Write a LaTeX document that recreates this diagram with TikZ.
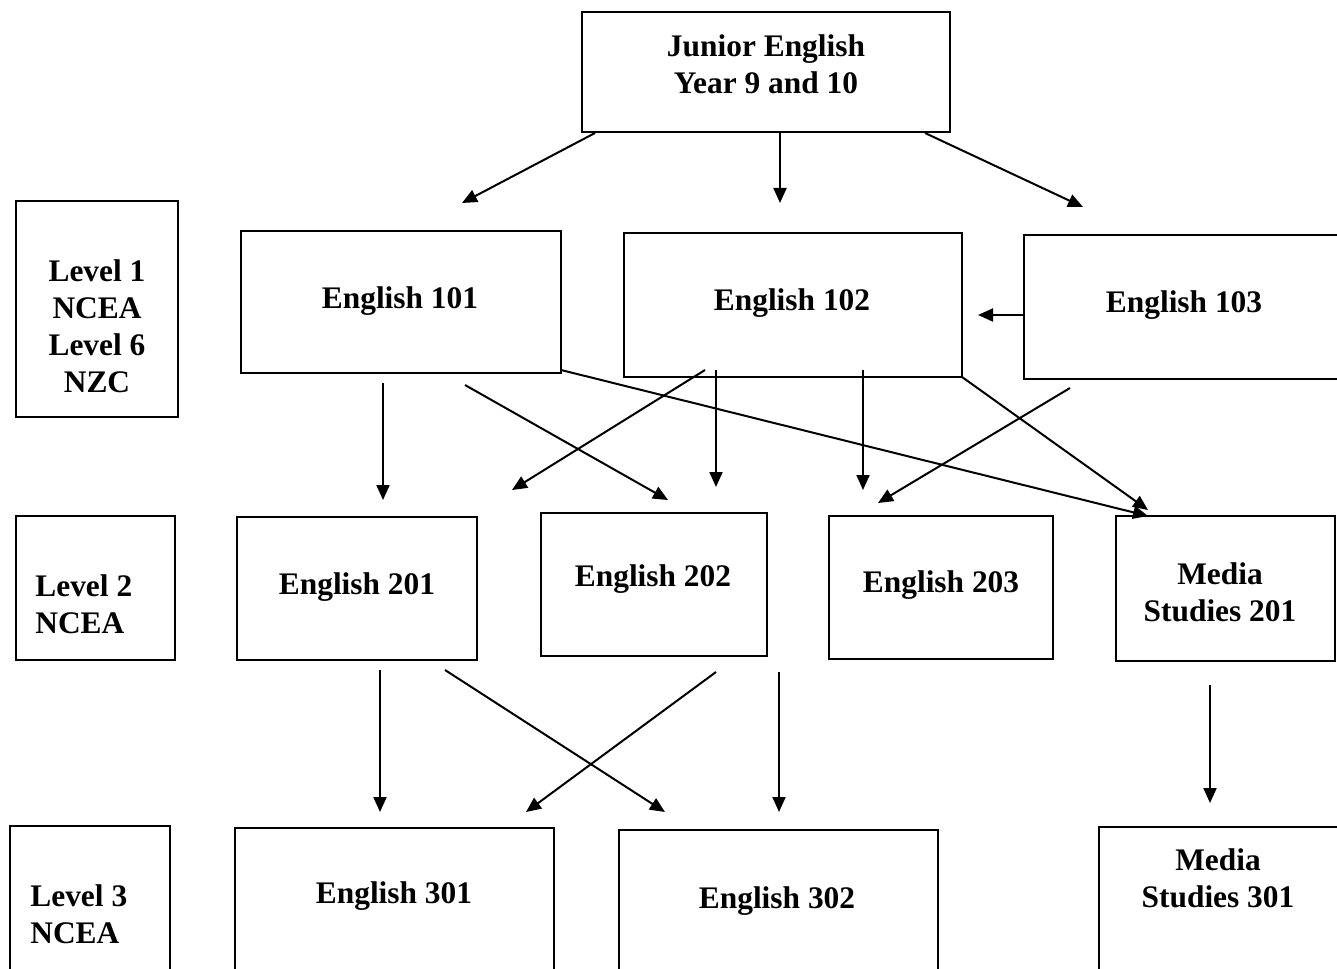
\documentclass[tikz,border=0pt]{standalone}
\usepackage{fontspec}
\setmainfont{Liberation Serif}
\usetikzlibrary{arrows.meta,fit}
\begin{document}
\begin{tikzpicture}[x=0.5pt,y=-0.5pt,
  box/.style={draw,line width=1pt,inner sep=0pt,rectangle},
  txt/.style={inner sep=0pt,font=\bfseries\fontsize{15.7}{18.5}\selectfont,align=center},
  txtl/.style={txt,align=left,anchor=west},
  arr/.style={line width=1pt,-{Triangle[length=7.5pt,width=6.5pt]}}]
\useasboundingbox (0,0) rectangle (1337,968);
\clip (0,0) rectangle (1337,968);
% boxes
\node[box,fit={(582,12) (950,132)}] (jr) {};
\node[box,fit={(16,201) (178,417)}] (l1) {};
\node[box,fit={(241,231) (561,373)}] (e101) {};
\node[box,fit={(624,233) (962,377)}] (e102) {};
\node[box,fit={(1024,235) (1345,379)}] (e103) {};
\node[box,fit={(16,516) (175,660)}] (l2) {};
\node[box,fit={(237,517) (477,660)}] (e201) {};
\node[box,fit={(541,513) (767,656)}] (e202) {};
\node[box,fit={(829,516) (1053,659)}] (e203) {};
\node[box,fit={(1116,516) (1335,661)}] (m201) {};
\node[box,fit={(10,826) (170,990)}] (l3) {};
\node[box,fit={(235,828) (554,990)}] (e301) {};
\node[box,fit={(619,830) (938,990)}] (e302) {};
\node[box,fit={(1099,827) (1345,990)}] (m301) {};
% texts
\node[txt] (jrt) at (766,64) {Junior English\\Year 9 and 10};
\node[txt] (l1t) at (97,326) {Level 1\\NCEA\\Level 6\\NZC};
\node[txt] (e101t) at (400,301) {English 101};
\node[txt] (e102t) at (792,303) {English 102};
\node[txt] (e103t) at (1184,305) {English 103};
\node[txtl] (l2t) at (35,604) {Level 2\\NCEA};
\node[txt] (e201t) at (357,587) {English 201};
\node[txt] (e202t) at (653,579) {English 202};
\node[txt] (e203t) at (941,585) {English 203};
\node[txt] (m201t) at (1220,592) {Media\\Studies 201};
\node[txtl] (l3t) at (30,914) {Level 3\\NCEA};
\node[txt] (e301t) at (394,896) {English 301};
\node[txt] (e302t) at (777,901) {English 302};
\node[txt] (m301t) at (1218,878) {Media\\Studies 301};
% arrow end points
\coordinate (a0) at (595,133); \coordinate (a1) at (462,203);
\coordinate (b0) at (780,133); \coordinate (b1) at (780,203);
\coordinate (c0) at (925,133); \coordinate (c1) at (1083,207);
\coordinate (d0) at (1024,315); \coordinate (d1) at (978,315);
\coordinate (e0) at (383,383); \coordinate (e1) at (383,500);
\coordinate (f0) at (465,385); \coordinate (f1) at (668,500);
\coordinate (g0) at (561,370); \coordinate (g1) at (1148,516);
\coordinate (h0) at (705,370); \coordinate (h1) at (512,490);
\coordinate (i0) at (716,370); \coordinate (i1) at (716,487);
\coordinate (j0) at (863,370); \coordinate (j1) at (863,490);
\coordinate (k0) at (962,377); \coordinate (k1) at (1148,510);
\coordinate (l0) at (1070,388); \coordinate (l1e) at (878,503);
\coordinate (m0) at (380,670); \coordinate (m1) at (380,812);
\coordinate (n0) at (445,670); \coordinate (n1) at (665,812);
\coordinate (o0) at (716,672); \coordinate (o1) at (526,812);
\coordinate (p0) at (779,672); \coordinate (p1) at (779,812);
\coordinate (q0) at (1210,685); \coordinate (q1) at (1210,803);
% arrows
\draw[arr] (a0) -- (a1);
\draw[arr] (b0) -- (b1);
\draw[arr] (c0) -- (c1);
\draw[arr] (d0) -- (d1);
\draw[arr] (e0) -- (e1);
\draw[arr] (f0) -- (f1);
\draw[arr] (g0) -- (g1);
\draw[arr] (h0) -- (h1);
\draw[arr] (i0) -- (i1);
\draw[arr] (j0) -- (j1);
\draw[arr] (k0) -- (k1);
\draw[arr] (l0) -- (l1e);
\draw[arr] (m0) -- (m1);
\draw[arr] (n0) -- (n1);
\draw[arr] (o0) -- (o1);
\draw[arr] (p0) -- (p1);
\draw[arr] (q0) -- (q1);
\end{tikzpicture}
\end{document}
